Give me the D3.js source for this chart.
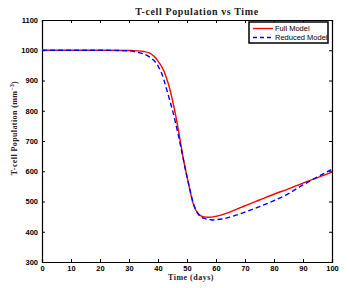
<!DOCTYPE html>
<html lang="en">
<head>
<meta charset="UTF-8">
<title>T-cell Population vs Time</title>
<script src="https://d3js.org/d3.v7.min.js"></script>
<style>
  body { margin: 0; background: #fff; }
  .tick text { font-family: "Liberation Sans", Arial, sans-serif; font-size: 7.5px; font-weight: bold; fill: #000; }
  .serif { font-family: "Liberation Serif", "DejaVu Serif", serif; font-weight: bold; fill: #222; }
</style>
</head>
<body>
<svg id="canvas" width="349" height="288"></svg>
<script>
// data
let time = [0, 10, 20, 30, 33, 35, 37, 38, 39, 40, 41, 42, 43, 44, 45, 46, 47, 48, 49, 50,
            51, 52, 53, 54, 55, 56, 57, 58, 59, 60, 62, 65, 70, 75, 80, 85, 90, 95, 100];
let fullModel = [1000, 1000, 1000, 999, 998, 996, 991, 985, 976, 964, 950, 932, 906, 875, 834, 790, 738, 682, 628, 582,
                 538, 497, 472, 459, 452, 449, 448, 448, 449, 451, 456, 466, 486, 505, 524, 542, 561, 579, 597];
let reducedModel = [1000, 1000, 1000, 998, 993, 988, 978, 971, 962, 948, 930, 903, 870, 836, 802, 762, 720, 674, 627, 582,
                    540, 500, 473, 457, 448, 444, 441, 440, 439, 440, 442, 449, 465, 483, 503, 526, 555, 581, 607];
let xTicks = [0, 10, 20, 30, 40, 50, 60, 70, 80, 90, 100];
let yTicks = [300, 400, 500, 600, 700, 800, 900, 1000, 1100];
let series = [
    {name: "Full Model", values: fullModel, color: "#ff0000", dash: null},
    {name: "Reduced Model", values: reducedModel, color: "#0000ff", dash: "5,3"}
];

let svg = d3.select('#canvas');
let plotLeft = 42, plotRight = 332, plotTop = 20, plotBottom = 262;

let xscale = d3.scaleLinear().domain([0, 100]).range([plotLeft, plotRight]);
let yscale = d3.scaleLinear().domain([300, 1100]).range([plotBottom, plotTop]);

// axes (ticks pointing inward, box style)
svg.append("g").attr("transform", `translate(0,${plotBottom})`)
    .call(d3.axisBottom(xscale).tickValues(xTicks).tickSize(-3).tickPadding(4).tickFormat(d3.format("d")));
svg.append("g").attr("transform", `translate(0,${plotTop})`)
    .call(d3.axisTop(xscale).tickValues(xTicks).tickSize(-3).tickFormat(""));
svg.append("g").attr("transform", `translate(${plotLeft},0)`)
    .call(d3.axisLeft(yscale).tickValues(yTicks).tickSize(-3).tickPadding(4).tickFormat(d3.format("d")));
svg.append("g").attr("transform", `translate(${plotRight},0)`)
    .call(d3.axisRight(yscale).tickValues(yTicks).tickSize(-3).tickFormat(""));
svg.selectAll(".domain").attr("stroke", "#000").attr("stroke-width", 1.2);
svg.selectAll(".tick line").attr("stroke", "#000");

// lines
let line_generator = d3.line()
    .x(function (d, i) { return xscale(time[i]); })
    .y(function (d) { return yscale(d); })
    .curve(d3.curveMonotoneX);

svg.append("g").selectAll("path")
    .data(series)
    .enter()
    .append("path")
    .attr("d", function (d) { return line_generator(d.values); })
    .attr("fill", "none")
    .attr("stroke", function (d) { return d.color; })
    .attr("stroke-width", 1.4)
    .attr("stroke-dasharray", function (d) { return d.dash; });

// title and axis labels
svg.append("text").attr("class", "serif")
    .attr("x", 197).attr("y", 15)
    .attr("text-anchor", "middle").style("font-size", "10px").style("letter-spacing", "0.6px")
    .text("T-cell Population vs Time");
svg.append("text").attr("class", "serif")
    .attr("x", 191).attr("y", 280)
    .attr("text-anchor", "middle").style("font-size", "8px").style("letter-spacing", "0.5px")
    .text("Time (days)");
svg.append("text").attr("class", "serif")
    .attr("transform", "translate(17,128) rotate(-90)")
    .attr("text-anchor", "middle").style("font-size", "8px").style("letter-spacing", "0.4px")
    .html("T-cell Population (mm<tspan dy='-3' font-size='5.5px'>−3</tspan><tspan dy='3'>)</tspan>");

// legend
let legend = svg.append("g").attr("transform", "translate(249,22)");
legend.append("rect").attr("width", 79).attr("height", 21)
    .attr("fill", "#fff").attr("stroke", "#000").attr("stroke-width", 1.5);
let rows = legend.selectAll(".row").data(series).enter().append("g")
    .attr("class", "row")
    .attr("transform", function (d, i) { return `translate(0,${6.5 + i * 9})`; });
rows.append("line").attr("x1", 4).attr("x2", 24)
    .attr("stroke", function (d) { return d.color; })
    .attr("stroke-width", 1.3)
    .attr("stroke-dasharray", function (d) { return d.dash ? "4,3" : null; });
rows.append("text").attr("x", 26).attr("dy", "0.35em")
    .style("font-family", "'Liberation Sans', Arial, sans-serif").style("font-size", "7.5px")
    .text(function (d) { return d.name; });
</script>
</body>
</html>
